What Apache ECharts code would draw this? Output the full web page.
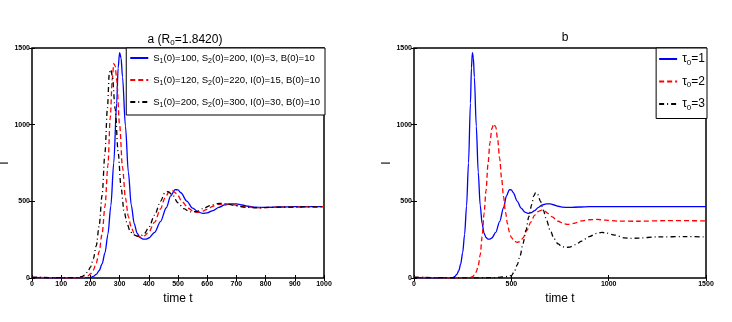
<!DOCTYPE html>
<html>
<head>
<meta charset="utf-8">
<script src="https://cdn.jsdelivr.net/npm/echarts@6/dist/echarts.min.js"></script>
<style>
  html, body { margin: 0; padding: 0; background: #fff; }
  #main { width: 732px; height: 322px; }
</style>
</head>
<body>
<div id="main"></div>
<script>
// panel a: same tau, different initial values  [t, I]
var namesA = ['S1(0)=100, S2(0)=200, I(0)=3, B(0)=10', 'S1(0)=120, S2(0)=220, I(0)=15, B(0)=10', 'S1(0)=200, S2(0)=300, I(0)=30, B(0)=10'];
var blueA = [[0,4],[100,1],[200,3],[210,10],[220,24],[230,48],[240,92],[250,165],[260,285],[270,470],[280,750],[290,1140],[295,1370],[300,1470],[305,1435],[310,1310],[320,990],[330,690],[340,475],[350,355],[360,292],[370,264],[380,253],[390,253],[400,261],[420,298],[440,368],[460,458],[475,535],[490,576],[500,575],[510,556],[530,502],[550,456],[570,429],[585,422],[600,425],[620,440],[640,461],[660,477],[680,484],[700,483],[720,476],[740,468],[760,462],[800,460],[850,463],[900,466],[1000,465]];
var redA = [[0,4],[150,1],[180,4],[190,11],[200,26],[210,52],[220,97],[230,172],[240,288],[250,468],[260,735],[268,1045],[275,1300],[280,1398],[285,1382],[290,1290],[300,1000],[310,722],[320,522],[330,400],[340,330],[350,291],[360,273],[372,267],[385,275],[400,300],[420,364],[440,450],[455,520],[470,564],[480,570],[495,551],[515,496],[535,455],[555,432],[565,428],[580,432],[600,448],[620,468],[640,480],[665,484],[690,478],[710,470],[740,462],[780,458],[850,462],[1000,465]];
var blackA = [[0,4],[150,2],[170,8],[180,18],[190,38],[200,70],[210,125],[220,210],[230,340],[240,540],[250,820],[258,1100],[265,1340],[270,1360],[275,1320],[285,1100],[295,820],[305,590],[315,440],[325,360],[335,310],[345,285],[360,273],[372,275],[385,290],[400,330],[420,410],[440,500],[455,555],[465,563],[480,545],[500,490],[520,452],[540,432],[550,430],[565,435],[585,452],[610,472],[635,485],[650,487],[675,480],[700,470],[730,462],[770,458],[850,462],[1000,465]];

// panel b: different tau0
var namesB = ['τ0=1', 'τ0=2', 'τ0=3'];
var blueB = blueA.slice(0, -1).concat([[1000,465],[1200,465],[1500,465]]);
var redB = [[0,4],[250,1],[290,3],[300,8],[310,18],[320,40],[330,80],[340,150],[350,270],[360,420],[370,570],[380,740],[390,880],[400,975],[410,1005],[420,985],[430,900],[440,780],[450,650],[460,530],[470,430],[480,355],[490,300],[500,265],[515,240],[530,232],[545,238],[560,262],[580,310],[600,365],[620,410],[640,435],[655,442],[670,437],[690,420],[710,398],[740,370],[770,354],[790,350],[820,356],[860,372],[900,380],[940,382],[980,378],[1050,371],[1150,370],[1300,374],[1500,373]];
var blackB = [[0,4],[300,1],[400,2],[430,4],[460,7],[480,10],[500,16],[515,40],[530,85],[545,145],[560,225],[575,310],[590,400],[605,480],[615,535],[625,557],[635,545],[650,500],[665,440],[680,380],[700,310],[720,255],[740,222],[760,205],[780,199],[800,202],[830,218],[860,240],[900,270],[940,292],[965,297],[990,293],[1030,280],[1080,262],[1110,258],[1150,260],[1250,268],[1400,270],[1500,268]];

var yTicks = { min: 0, max: 1500, interval: 500 };

var chart = echarts.init(document.getElementById('main'));

function line(name, data, color, dash, axis) {
    return {
        name: name,
        type: 'line',
        xAxisIndex: axis,
        yAxisIndex: axis,
        data: data,
        symbol: 'none',
        smooth: 0.3,
        smoothMonotone: 'x',
        lineStyle: { color: color, width: 1.3, type: dash },
        itemStyle: { color: color }
    };
}

function plain(v) { return String(v); }

function xAx(grid, max, step, top) {
    return {
        type: 'value', gridIndex: grid, position: top ? 'top' : 'bottom',
        min: 0, max: max, interval: step,
        name: top ? '' : 'time t', nameLocation: 'middle', nameGap: 13,
        nameTextStyle: { color: '#000', fontSize: 12, fontFamily: 'Liberation Sans' },
        axisLine: { show: false },
        axisTick: { show: true, inside: true, length: 3, lineStyle: { color: '#000' } },
        axisLabel: { show: !top, color: '#000', fontSize: 7, fontWeight: 'bold', margin: 3, fontFamily: 'Liberation Sans', formatter: plain },
        splitLine: { show: false }
    };
}

function yAx(grid, right) {
    return {
        type: 'value', gridIndex: grid, position: right ? 'right' : 'left',
        min: yTicks.min, max: yTicks.max, interval: yTicks.interval,
        name: right ? '' : 'I', nameLocation: 'middle', nameGap: 16,
        nameTextStyle: { color: '#000', fontSize: 12, fontFamily: 'Liberation Sans' },
        axisLine: { show: false },
        axisTick: { show: true, inside: true, length: 3, lineStyle: { color: '#000' } },
        axisLabel: { show: !right, color: '#000', fontSize: 7, fontWeight: 'bold', margin: 2, fontFamily: 'Liberation Sans', formatter: plain },
        splitLine: { show: false }
    };
}

function sub(size) { return { fontSize: size, padding: [7, 0, 0, 0], fontFamily: 'Liberation Sans', color: '#000' }; }

var legendBase = {
    orient: 'vertical',
    backgroundColor: '#fff',
    borderColor: '#000',
    borderWidth: 1,
    borderRadius: 0,
    itemWidth: 18,
    itemHeight: 8,
    itemStyle: { opacity: 0 },
    formatter: function (n) { return n.replace(/([Sτ])(\d)/g, '$1{s|$2}'); }
};

chart.setOption({
    animation: false,
    backgroundColor: '#fff',
    title: [
        { text: 'a (R{s|0}=1.8420)', left: 180, top: 27, textAlign: 'center',
          textStyle: { color: '#000', fontSize: 12, fontWeight: 'normal', fontFamily: 'Liberation Sans', rich: { s: sub(8) } } },
        { text: 'b', left: 560, top: 27, textAlign: 'center',
          textStyle: { color: '#000', fontSize: 12, fontWeight: 'normal', fontFamily: 'Liberation Sans' } }
    ],
    grid: [
        { left: 32, top: 48, width: 292, height: 230, show: true, borderColor: '#000', borderWidth: 1.5, backgroundColor: '#fff', outerBoundsMode: 'none', containLabel: false },
        { left: 414, top: 48, width: 292, height: 230, show: true, borderColor: '#000', borderWidth: 1.5, backgroundColor: '#fff', outerBoundsMode: 'none', containLabel: false }
    ],
    xAxis: [xAx(0, 1000, 100, false), xAx(1, 1500, 500, false), xAx(0, 1000, 100, true), xAx(1, 1500, 500, true)],
    yAxis: [yAx(0, false), yAx(1, false), yAx(0, true), yAx(1, true)],
    legend: [
        Object.assign({}, legendBase, { data: namesA, right: 732 - 325, top: 48, padding: [5, 5, 6, 3], itemGap: 10,
            textStyle: { color: '#000', fontSize: 9.5, fontFamily: 'Liberation Sans', rich: { s: sub(7) } } }),
        Object.assign({}, legendBase, { data: namesB, right: 732 - 707, top: 48, padding: [5, 2, 7, 2], itemGap: 9,
            textStyle: { color: '#000', fontSize: 12, fontFamily: 'Liberation Sans', rich: { s: sub(8) } } })
    ],
    series: [
        line(namesA[0], blueA, '#0000ff', 'solid', 0),
        line(namesA[1], redA, '#ff0000', [5, 3], 0),
        line(namesA[2], blackA, '#000000', [5, 3, 1, 3], 0),
        line(namesB[0], blueB, '#0000ff', 'solid', 1),
        line(namesB[1], redB, '#ff0000', [5, 3], 1),
        line(namesB[2], blackB, '#000000', [5, 3, 1, 3], 1)
    ]
});
</script>
</body>
</html>
